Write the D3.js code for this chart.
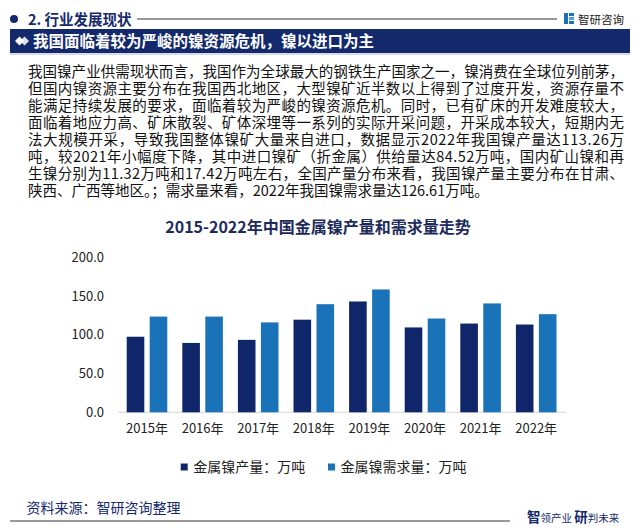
<!DOCTYPE html>
<html><head><meta charset="utf-8">
<script src="https://cdn.jsdelivr.net/npm/d3@7"></script>
<style>
body{margin:0;background:#fff}
svg{display:block}
text{font-family:"Noto Sans CJK SC","Noto Sans",sans-serif}
</style>
</head><body><svg id="c" width="640" height="530"></svg>
<script>
// ---- data ----
const years = ["2015年","2016年","2017年","2018年","2019年","2020年","2021年","2022年"];
const production = [97.5, 89.5, 93.5, 119.5, 143.0, 109.5, 114.5, 113.26];
const demand = [123.5, 123.5, 116.0, 139.5, 158.5, 121.0, 140.5, 126.61];
const seriesNames = ["金属镍产量：万吨","金属镍需求量：万吨"];
const yTicks = [0, 50, 100, 150, 200];
const chartTitle = "2015-2022年中国金属镍产量和需求量走势";
const sectionTitle = "2. 行业发展现状";
const bannerTitle = "我国面临着较为严峻的镍资源危机，镍以进口为主";
const paragraphLines = [
  "我国镍产业供需现状而言，我国作为全球最大的钢铁生产国家之一，镍消费在全球位列前茅，",
  "但国内镍资源主要分布在我国西北地区，大型镍矿近半数以上得到了过度开发，资源存量不",
  "能满足持续发展的要求，面临着较为严峻的镍资源危机。同时，已有矿床的开发难度较大，",
  "面临着地应力高、矿床散裂、矿体深埋等一系列的实际开采问题，开采成本较大，短期内无",
  "法大规模开采，导致我国整体镍矿大量来自进口，数据显示2022年我国镍产量达113.26万",
  "吨，较2021年小幅度下降，其中进口镍矿（折金属）供给量达84.52万吨，国内矿山镍和再",
  "生镍分别为11.32万吨和17.42万吨左右，全国产量分布来看，我国镍产量主要分布在甘肃、",
  "陕西、广西等地区。；需求量来看，2022年我国镍需求量达126.61万吨。"
];
const sourceText = "资料来源：智研咨询整理";

const colors = ["#0f266b", "#1a72b8"];
const navy = "#14296b";

const svg = d3.select("#c");

// ---- header ----
svg.append("circle").attr("cx", 14).attr("cy", 19).attr("r", 4).attr("fill", navy);
svg.append("text").attr("x", 28).attr("y", 24.5).attr("font-size", 14.5).attr("font-weight", 700)
  .attr("fill", navy).text(sectionTitle);
svg.append("line").attr("x1", 137).attr("x2", 557).attr("y1", 19).attr("y2", 19)
  .attr("stroke", "#333").attr("stroke-width", 1);
// logo icon
const lg = svg.append("g").attr("transform", "translate(564,13)");
lg.append("rect").attr("x", 0).attr("y", 0).attr("width", 4).attr("height", 11).attr("fill", "#1a72b8");
lg.append("rect").attr("x", 5).attr("y", 0).attr("width", 5).attr("height", 3).attr("fill", "#1a72b8");
lg.append("rect").attr("x", 5).attr("y", 4).attr("width", 5).attr("height", 3).attr("fill", "#4aa0e0");
lg.append("rect").attr("x", 5).attr("y", 8).attr("width", 5).attr("height", 3).attr("fill", "#1a72b8");
svg.append("text").attr("x", 578).attr("y", 23.5).attr("font-size", 11.5).attr("fill", "#222").text("智研咨询");

// ---- banner ----
svg.append("rect").attr("x", 10).attr("y", 29).attr("width", 620).attr("height", 24).attr("fill", navy);
svg.append("line").attr("x1", 10).attr("x2", 630).attr("y1", 54).attr("y2", 54).attr("stroke", "#c9cfdc").attr("stroke-width", 1.5);
const dm = svg.append("g").attr("fill", "#fff");
dm.append("path").attr("d", "M15,41 L19.5,36.5 L24,41 L19.5,45.5 Z");
dm.append("path").attr("d", "M20,41 L24.5,36.5 L29,41 L24.5,45.5 Z").attr("opacity", 0.85);
svg.append("text").attr("x", 33).attr("y", 46.5).attr("font-size", 15.5).attr("font-weight", 700)
  .attr("fill", "#fff").text(bannerTitle);

// ---- paragraph ----
const para = svg.append("g").attr("font-size", 14.5).attr("fill", "#111");
paragraphLines.forEach((t, i) => {
  const tx = para.append("text").attr("x", 28).attr("y", 77 + i * 17).text(t);
  if (i < paragraphLines.length - 1) tx.attr("textLength", 596).attr("lengthAdjust", "spacing");
});

// ---- chart title ----
svg.append("text").attr("x", 318).attr("y", 233).attr("text-anchor", "middle")
  .attr("font-size", 16).attr("font-weight", 700).attr("fill", "#1d2b5c").text(chartTitle);

// ---- chart ----
const x = d3.scaleBand().domain(years).range([119.2, 564]).paddingInner(0.27).paddingOuter(0.135);
const xi = d3.scaleBand().domain([0, 1]).range([0, x.bandwidth()]).paddingInner(0.235);
const y = d3.scaleLinear().domain([0, 200]).range([412.3, 257.3]);

// y axis labels
const yAxis = d3.axisLeft(y).tickValues(yTicks).tickFormat(d3.format(".1f")).tickSize(0).tickPadding(0);
const yg = svg.append("g").attr("transform", "translate(104,0)").call(yAxis);
yg.select(".domain").remove();
yg.selectAll("text").attr("font-size", 13).attr("fill", "#222")
  .style("font-family", '"Noto Sans CJK SC","Noto Sans",sans-serif');

// baseline
svg.append("line").attr("x1", 118).attr("x2", 566).attr("y1", y(0)).attr("y2", y(0))
  .attr("stroke", "#d5d8de").attr("stroke-width", 1);

// bars
const series = [production, demand];
series.forEach((vals, s) => {
  svg.append("g").selectAll("rect").data(vals).join("rect")
    .attr("x", (d, i) => x(years[i]) + xi(s))
    .attr("y", d => y(d))
    .attr("width", xi.bandwidth())
    .attr("height", d => y(0) - y(d))
    .attr("fill", colors[s]);
});

// x axis labels
const xAxis = d3.axisBottom(x).tickSize(0).tickPadding(0);
const xg = svg.append("g").attr("transform", `translate(0,${y(0) + 11})`).call(xAxis);
xg.select(".domain").remove();
xg.selectAll("text").attr("font-size", 13).attr("fill", "#222")
  .style("font-family", '"Noto Sans CJK SC","Noto Sans",sans-serif');

// legend
const legX = [180.7, 328];
seriesNames.forEach((n, i) => {
  svg.append("rect").attr("x", legX[i]).attr("y", 463.5).attr("width", 7).attr("height", 7).attr("fill", colors[i]);
  svg.append("text").attr("x", legX[i] + 12.5).attr("y", 472).attr("font-size", 14).attr("fill", "#222").text(n);
});

// ---- footer ----
svg.append("text").attr("x", 26.5).attr("y", 513).attr("font-size", 14).attr("fill", navy).text(sourceText);
svg.append("line").attr("x1", 10).attr("x2", 510).attr("y1", 521).attr("y2", 521).attr("stroke", "#333").attr("stroke-width", 1);
const slogan = svg.append("text").attr("x", 527).attr("y", 522).attr("fill", navy);
slogan.append("tspan").attr("font-size", 13.5).attr("font-weight", 700).text("智");
slogan.append("tspan").attr("font-size", 10.5).text("领产业 ");
slogan.append("tspan").attr("font-size", 13.5).attr("font-weight", 700).text("研");
slogan.append("tspan").attr("font-size", 10.5).text("判未来");
</script>
</body></html>
